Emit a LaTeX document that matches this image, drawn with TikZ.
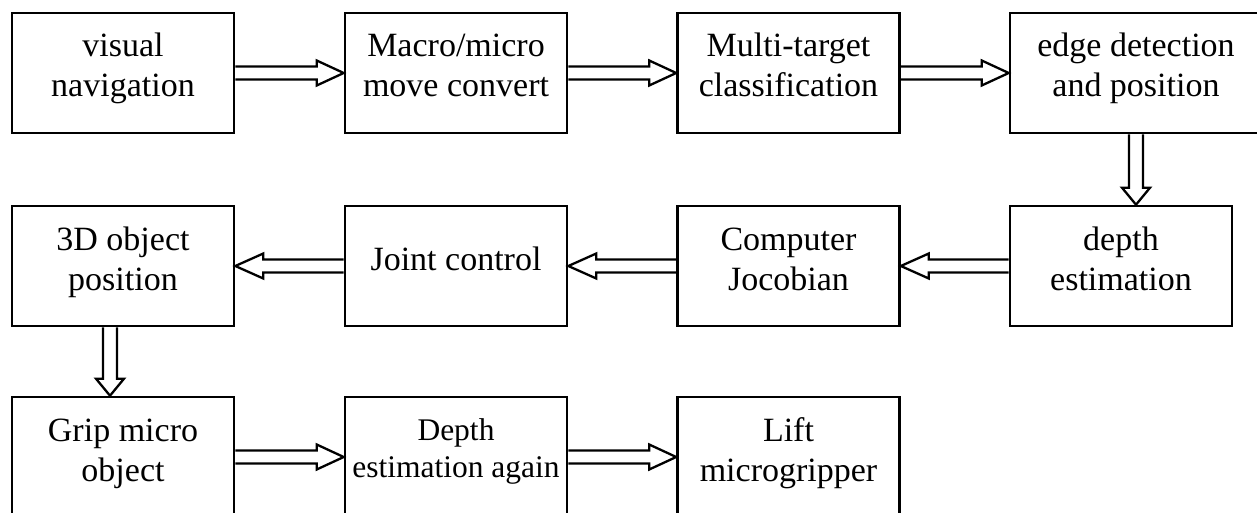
\documentclass[tikz,border=0pt]{standalone}
\usepackage{fontspec}
\setmainfont{Liberation Serif}
\newcommand{\blkright}[2]{%
  \draw[blk] ([yshift=6.5pt]#1.east) -- ([xshift=-27pt,yshift=6.5pt]#2.west)
    -- ([xshift=-27pt,yshift=12.5pt]#2.west) -- (#2.west)
    -- ([xshift=-27pt,yshift=-12.5pt]#2.west) -- ([xshift=-27pt,yshift=-6.5pt]#2.west)
    -- ([yshift=-6.5pt]#1.east);}
\newcommand{\blkleft}[2]{%
  \draw[blk] ([yshift=6.5pt]#1.west) -- ([xshift=28pt,yshift=6.5pt]#2.east)
    -- ([xshift=28pt,yshift=12.5pt]#2.east) -- (#2.east)
    -- ([xshift=28pt,yshift=-12.5pt]#2.east) -- ([xshift=28pt,yshift=-6.5pt]#2.east)
    -- ([yshift=-6.5pt]#1.west);}
\newcommand{\blkdown}[2]{%
  \draw[blk] ([xshift=-7pt]#1) -- ([xshift=-7pt,yshift=17pt]#2)
    -- ([xshift=-14pt,yshift=17pt]#2) -- (#2)
    -- ([xshift=14pt,yshift=17pt]#2) -- ([xshift=7pt,yshift=17pt]#2)
    -- ([xshift=7pt]#1);}
\begin{document}
\begin{tikzpicture}[x=1pt,y=-1pt,
  box/.style={draw, line width=2.6pt, minimum width=222pt, minimum height=120pt,
    inner sep=0pt, align=center, font=\fontsize{34}{40}\selectfont},
  two/.style={text height=64pt, text depth=16pt},
  one/.style={text height=25pt, text depth=16pt},
  small/.style={font=\fontsize{31.5}{37}\selectfont, text height=56pt, text depth=16pt},
  blk/.style={draw, line width=2.3pt, line join=miter}]
\useasboundingbox (0,0) rectangle (1257,513);
\clip (0,0) rectangle (1257,513);
\fill[white] (0,0) rectangle (1257,513);
% row 1
\node[box,two] (n1) at (123,73) {visual\\navigation};
\node[box,two] (n2) at (456,73) {Macro/micro\\move convert};
\node[box,two] (n3) at (788.5,73) {Multi-target\\classification};
\node[box,two,minimum width=252pt] (n4) at (1136,73) {edge detection\\and position};
% row 2
\node[box,two] (n5) at (1121,266) {depth\\estimation};
\node[box,two] (n6) at (788.5,266) {Computer\\Jocobian};
\node[box,one] (n7) at (456,266) {Joint control};
\node[box,two] (n8) at (123,266) {3D object\\position};
% row 3
\node[box,two] (n9) at (123,457) {Grip micro\\object};
\node[box,small] (n10) at (456,457) {Depth\\estimation again};
\node[box,two] (n11) at (788.5,457) {Lift\\microgripper};
% connectors
\blkright{n1}{n2}
\blkright{n2}{n3}
\blkright{n3}{n4}
\coordinate (d1) at (n4.south |- n5.north);
\blkdown{n4.south}{d1}
\blkleft{n5}{n6}
\blkleft{n6}{n7}
\blkleft{n7}{n8}
\coordinate (d2t) at ([xshift=-13pt]n8.south);
\coordinate (d2) at (d2t |- n9.north);
\blkdown{d2t}{d2}
\blkright{n9}{n10}
\blkright{n10}{n11}
\end{tikzpicture}
\end{document}
